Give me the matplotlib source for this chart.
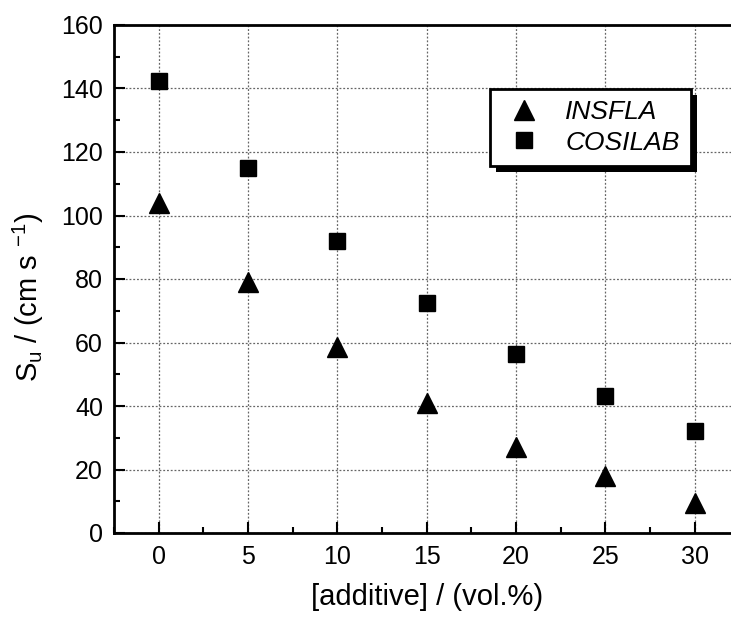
import matplotlib
matplotlib.use("Agg")
import matplotlib.pyplot as plt
from matplotlib.patches import Rectangle
from matplotlib.ticker import MultipleLocator
from matplotlib.lines import Line2D

plt.rcParams['font.family'] = ['Liberation Sans', 'DejaVu Sans']
plt.rcParams['mathtext.fontset'] = 'custom'
plt.rcParams['mathtext.rm'] = 'Liberation Sans'
plt.rcParams['mathtext.it'] = 'Liberation Sans:italic'

additive = [0, 5, 10, 15, 20, 25, 30]
insfla = [104, 79, 58.5, 41, 27, 18, 9.5]
cosilab = [142.5, 115, 92, 72.5, 56.5, 43, 32]

fig = plt.figure(figsize=(7.31, 6.19), dpi=100)
W, H = 731, 619
left, right_px, top, bottom = 114, 114 + 625.4, 25, 533
ax = fig.add_axes([left / W, (H - bottom) / H, (right_px - left) / W, (bottom - top) / H])

ax.plot(additive, insfla, linestyle='none', marker='^', color='black', markersize=14, zorder=3)
ax.plot(additive, cosilab, linestyle='none', marker='s', color='black', markersize=12, zorder=3)

ax.set_xlim(-2.5, 32.5)
ax.set_ylim(0, 160)
ax.xaxis.set_major_locator(MultipleLocator(5))
ax.xaxis.set_minor_locator(MultipleLocator(2.5))
ax.yaxis.set_major_locator(MultipleLocator(20))
ax.yaxis.set_minor_locator(MultipleLocator(10))

ax.grid(True, which='major', linestyle=(0, (1.5, 1.5)), color='#666666', linewidth=0.9)
ax.set_axisbelow(True)

for s in ax.spines.values():
    s.set_linewidth(2.0)
ax.spines['right'].set_visible(False)

ax.tick_params(which='major', direction='in', length=8, width=1.5, labelsize=18, pad=9)
ax.tick_params(which='minor', direction='in', length=4, width=1.5)
ax.tick_params(axis='y', which='major', pad=8)

ax.set_xlabel('[additive] / (vol.%)', fontsize=21, labelpad=10)
ax.set_ylabel(r'S$_\mathregular{u}$ / (cm s $^\mathregular{-1}$)', fontsize=21)
ax.yaxis.set_label_coords(-0.108, 0.465)

handles = [Line2D([], [], linestyle='none', marker='^', color='black', markersize=14),
           Line2D([], [], linestyle='none', marker='s', color='black', markersize=12)]
leg = ax.legend(handles, ['INSFLA', 'COSILAB'], loc='upper left',
                bbox_to_anchor=((490 - left) / (right_px - left), (bottom - 89) / (bottom - top)),
                prop={'style': 'italic', 'size': 19}, frameon=True, fancybox=False,
                edgecolor='black', framealpha=1, borderpad=0.42, handlelength=1.75,
                handletextpad=0.68, labelspacing=0.25, borderaxespad=0)
leg.get_frame().set_linewidth(2.0)
leg.set_zorder(6)

fig.canvas.draw()
bb = leg.get_frame().get_window_extent()
shadow = Rectangle((bb.x0 + 6, bb.y0 - 6), bb.width, bb.height, transform=None,
                   facecolor='black', edgecolor='none', zorder=5.5)
ax.add_artist(shadow)

fig.savefig('out.png', dpi=100)
